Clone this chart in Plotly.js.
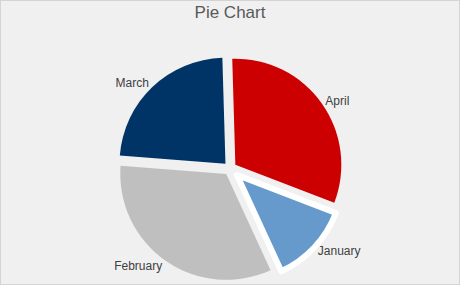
<!DOCTYPE html>
<html>
<head>
<meta charset="utf-8">
<script src="https://cdn.plot.ly/plotly-3.0.1.min.js"></script>
<style>
  html, body { margin: 0; padding: 0; background: #f0f0f0; }
  #wrap { position: relative; width: 460px; height: 285px; }
  #chart { width: 460px; height: 285px; }
  #frame { position: absolute; left: 0; top: 0; width: 458px; height: 283px; border: 1px solid #d4d4d4; pointer-events: none; }
</style>
</head>
<body>
<div id="wrap"><div id="chart"></div><div id="frame"></div></div>
<script>
const categories = ["January", "February", "March", "April"];
const values = [12.3, 33.1, 23.3, 31.3];
const sliceColors = ["#6699cc", "#bfbfbf", "#003366", "#cc0000"];
const pulls = [0.09, 0.062, 0.062, 0.062];
const borderWidths = [6, 0, 0, 0];

const trace = {
  type: "pie",
  labels: categories,
  values: values,
  sort: false,
  direction: "clockwise",
  rotation: 111,
  pull: pulls,
  marker: {
    colors: sliceColors,
    line: { color: "#ffffff", width: borderWidths }
  },
  textinfo: "label",
  textposition: "outside",
  outsidetextfont: { family: "Liberation Sans, Arial, sans-serif", size: 12, color: "#404040" },
  hoverinfo: "none",
  automargin: false
};

const layout = {
  width: 460,
  height: 285,
  paper_bgcolor: "#f0f0f0",
  plot_bgcolor: "#f0f0f0",
  showlegend: false,
  margin: { l: 0, r: 0, t: 53, b: 1, pad: 0 },
  title: {
    text: "Pie Chart",
    font: { family: "Liberation Sans, Arial, sans-serif", size: 17, color: "#595959" },
    x: 0.5, xanchor: "center",
    y: 0.958, yanchor: "middle"
  }
};

Plotly.newPlot("chart", [trace], layout, { staticPlot: true, displayModeBar: false });
</script>
</body>
</html>
